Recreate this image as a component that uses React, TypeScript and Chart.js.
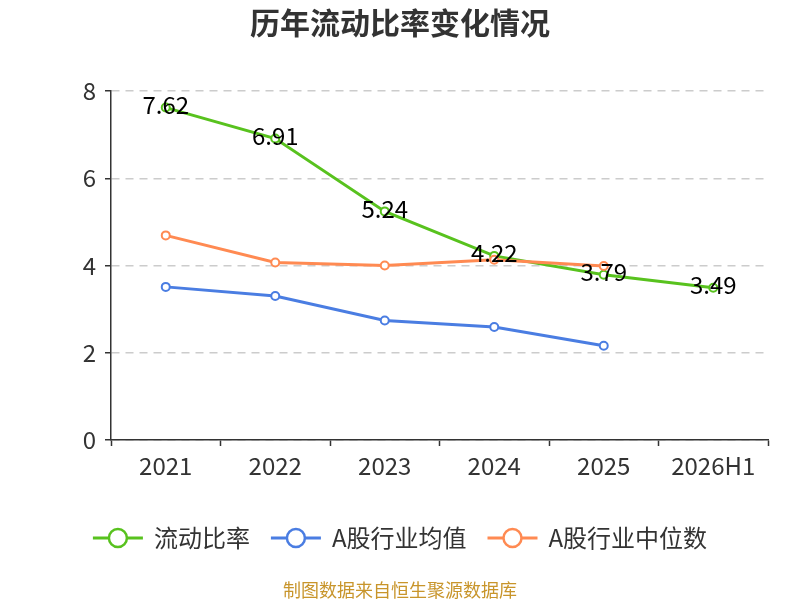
import React, { useEffect, useRef } from "react";
import { Chart, registerables, Plugin } from "chart.js";

Chart.register(...registerables);

const FONT = "'Noto Sans CJK SC', 'Noto Sans', sans-serif";

const years = ["2021", "2022", "2023", "2024", "2025", "2026H1"];
const currentRatio = [7.62, 6.91, 5.24, 4.22, 3.79, 3.49];
const industryAvg = [3.51, 3.3, 2.74, 2.59, 2.16, null];
const industryMedian = [4.69, 4.07, 4.0, 4.13, 3.99, null];
const yTicks = [0, 2, 4, 6, 8];

const seriesNames = ["流动比率", "A股行业均值", "A股行业中位数"];
const seriesColors = ["#58c21e", "#4a7de2", "#ff8a52"];

const titleText = "历年流动比率变化情况";
const footerText = "制图数据来自恒生聚源数据库";

// labels on the main series, slightly above each point
const valueLabels: Plugin<"line"> = {
  id: "valueLabels",
  afterDatasetsDraw(chart) {
    const ctx = chart.ctx;
    const meta = chart.getDatasetMeta(0);
    ctx.save();
    ctx.font = `24px ${FONT}`;
    ctx.fillStyle = "#000";
    ctx.textAlign = "center";
    ctx.textBaseline = "middle";
    meta.data.forEach((pt, i) => {
      ctx.fillText(currentRatio[i].toFixed(2), pt.x, pt.y - 3);
    });
    ctx.restore();
  },
};

// title, legend and source note
const decorations: Plugin<"line"> = {
  id: "decorations",
  afterDraw(chart) {
    const ctx = chart.ctx;
    const w = chart.width;
    ctx.save();

    ctx.font = `bold 30px ${FONT}`;
    ctx.fillStyle = "#333";
    ctx.textAlign = "center";
    ctx.textBaseline = "middle";
    ctx.fillText(titleText, w / 2, 23);

    // legend
    ctx.font = `24px ${FONT}`;
    const markW = 50;
    const gap = 11;
    const itemGap = 21;
    const widths = seriesNames.map((n) => markW + gap + ctx.measureText(n).width);
    const total = widths.reduce((a, b) => a + b, 0) + itemGap * (widths.length - 1);
    let x = w / 2 - total / 2;
    const y = 538;
    seriesNames.forEach((name, i) => {
      const c = seriesColors[i];
      ctx.strokeStyle = c;
      ctx.lineWidth = 3;
      ctx.beginPath();
      ctx.moveTo(x, y);
      ctx.lineTo(x + markW, y);
      ctx.stroke();
      ctx.beginPath();
      ctx.arc(x + markW / 2, y, 9, 0, Math.PI * 2);
      ctx.fillStyle = "#fff";
      ctx.fill();
      ctx.lineWidth = 2.5;
      ctx.stroke();
      ctx.fillStyle = "#333";
      ctx.textAlign = "left";
      ctx.fillText(name, x + markW + gap, y);
      x += widths[i] + itemGap;
    });

    ctx.font = `18px ${FONT}`;
    ctx.fillStyle = "#c8952b";
    ctx.textAlign = "center";
    ctx.fillText(footerText, w / 2, 590);
    ctx.restore();
  },
};

const App: React.FC = () => {
  const chartRef = useRef<HTMLCanvasElement>(null);
  const chartInstance = useRef<Chart<"line"> | null>(null);

  useEffect(() => {
    if (!chartRef.current) return;
    if (chartInstance.current) chartInstance.current.destroy();

    const data = [currentRatio, industryAvg, industryMedian];
    chartInstance.current = new Chart(chartRef.current, {
      type: "line",
      data: {
        labels: years,
        datasets: seriesNames.map((name, i) => ({
          label: name,
          data: data[i],
          borderColor: seriesColors[i],
          backgroundColor: seriesColors[i],
          borderWidth: 3,
          pointRadius: 4,
          pointBorderWidth: 2,
          pointBackgroundColor: "#fff",
          pointBorderColor: seriesColors[i],
          tension: 0,
          order: i === 0 ? 1 : 0,
        })),
      },
      options: {
        responsive: true,
        maintainAspectRatio: false,
        animation: false,
        layout: { padding: { top: 91, right: 32, bottom: 0, left: 0 } },
        plugins: {
          legend: { display: false },
          title: { display: false },
          tooltip: { enabled: false },
        },
        scales: {
          x: {
            offset: true,
            grid: {
              offset: true,
              drawOnChartArea: false,
              tickLength: 6,
              tickColor: "#333",
              tickWidth: 1.5,
            },
            border: { color: "#333", width: 1.5 },
            ticks: {
              color: "#333",
              font: { family: FONT, size: 24 },
              padding: 5,
              maxRotation: 0,
              autoSkip: false,
            },
            afterFit: (scale) => {
              scale.height = 160;
            },
          },
          y: {
            min: 0,
            max: 8,
            afterBuildTicks: (scale) => {
              scale.ticks = yTicks.map((v) => ({ value: v }));
            },
            grid: {
              color: "#cccccc",
              lineWidth: 1.5,
              tickLength: 6,
              tickColor: "#333",
              tickWidth: 1.5,
            },
            border: { color: "#333", width: 1.5, dash: [8, 6] },
            ticks: {
              color: "#333",
              font: { family: FONT, size: 24 },
              padding: 9,
            },
            afterFit: (scale) => {
              scale.width = 111;
            },
          },
        },
      },
      plugins: [valueLabels, decorations],
    });

    return () => {
      if (chartInstance.current) {
        chartInstance.current.destroy();
        chartInstance.current = null;
      }
    };
  }, []);

  return (
    <div style={{ position: "absolute", left: 0, top: 0, width: 800, height: 600, background: "#fff" }}>
      <canvas ref={chartRef} />
    </div>
  );
};

export default App;
